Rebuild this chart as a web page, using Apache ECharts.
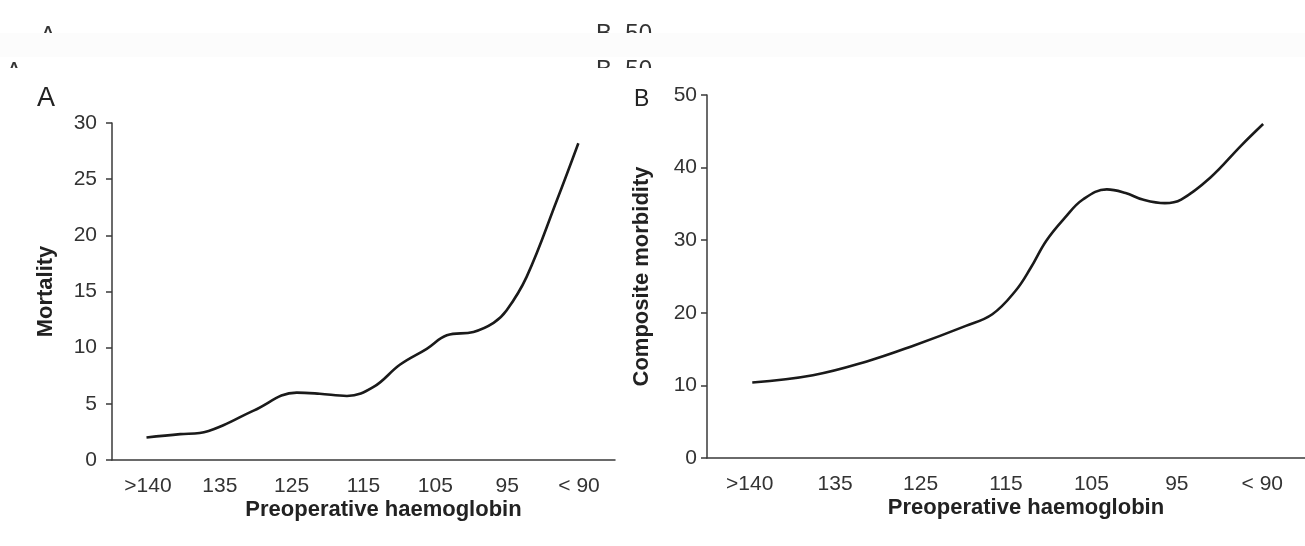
<!DOCTYPE html>
<html>
<head>
<meta charset="utf-8">
<script src="https://cdn.jsdelivr.net/npm/echarts@6/dist/echarts.min.js"></script>
<style>
html,body{margin:0;padding:0;background:#fff;}
#main{width:1305px;height:546px;}
</style>
</head>
<body>
<div id="main"></div>
<script>
// haemoglobin bands shown on both x axes
const categories = ['>140', '135', '125', '115', '105', '95', '< 90'];

// panel A: mortality curve, x is position along the band axis (0..7)
const mortalityX = [0.48, 0.95, 1.22, 1.55, 1.97, 2.57, 2.89, 3.27, 3.64, 4.01, 4.38, 4.66, 5.03, 5.31, 5.49, 5.77, 6.19, 6.49];
const mortalityY = [2.0, 2.3, 2.4, 3.1, 4.4, 6.0, 5.9, 5.7, 6.5, 8.5, 9.9, 11.1, 11.4, 12.2, 13.3, 16.3, 23.1, 28.2];

// panel B: composite morbidity curve
const morbidityX = [0.53, 1.24, 1.87, 2.40, 3.03, 3.34, 3.61, 3.79, 3.97, 4.19, 4.40, 4.68, 4.90, 5.10, 5.36, 5.55, 5.89, 6.25, 6.51];
const morbidityY = [10.4, 11.4, 13.3, 15.4, 18.2, 19.8, 23.0, 26.2, 29.9, 33.1, 35.6, 37.0, 36.5, 35.6, 35.1, 35.6, 38.6, 43.0, 46.0];

const mortalityTicks = [0, 5, 10, 15, 20, 25, 30];
const morbidityTicks = [0, 10, 20, 30, 40, 50];

const font = 'Liberation Sans, Arial, sans-serif';
const axisColor = '#3a3a3a';

function zip(xs, ys) {
    return xs.map((x, i) => [x, ys[i]]);
}

function catAxis(gridIndex) {
    return {
        type: 'category',
        gridIndex: gridIndex,
        data: categories,
        boundaryGap: true,
        axisLine: {lineStyle: {color: axisColor, width: 1.5}},
        axisTick: {length: 5, lineStyle: {color: axisColor, width: 1.5}},
        axisLabel: {fontSize: 21, color: '#333', margin: 16, fontFamily: font},
        splitLine: {show: false},
        name: 'Preoperative haemoglobin',
        nameLocation: 'middle',
        nameGap: 39,
        nameMoveOverlap: false,
        // the title sits a little right of the axis centre
        nameTextStyle: {fontSize: 22, fontWeight: 'bold', color: '#222', fontFamily: font, padding: [0, 0, 0, 40]}
    };
}

function posAxis(gridIndex) {
    return {type: 'value', gridIndex: gridIndex, min: 0, max: 7, show: false, splitLine: {show: false}};
}

function yAxis(gridIndex, ticks, name, gap, margin) {
    return {
        type: 'value',
        gridIndex: gridIndex,
        min: ticks[0],
        max: ticks[ticks.length - 1],
        interval: ticks[1] - ticks[0],
        splitLine: {show: false},
        axisLine: {show: true, lineStyle: {color: axisColor, width: 1.5}},
        axisTick: {show: true, length: 6, lineStyle: {color: axisColor, width: 1.5}},
        axisLabel: {fontSize: 21, color: '#333', margin: margin, fontFamily: font},
        name: name,
        nameLocation: 'middle',
        nameRotate: 90,
        nameGap: gap,
        nameMoveOverlap: false,
        nameTextStyle: {fontSize: 22, fontWeight: 'bold', color: '#222', fontFamily: font}
    };
}

const chart = echarts.init(document.getElementById('main'));

const option = {
    animation: false,
    backgroundColor: '#fff',
    grid: [
        {left: 112, top: 123, width: 503, height: 337},
        {left: 707, top: 95, width: 606, height: 363}
    ],
    xAxis: [catAxis(0), posAxis(0), catAxis(1), posAxis(1)],
    yAxis: [
        yAxis(0, mortalityTicks, 'Mortality', 55, 15),
        yAxis(1, morbidityTicks, 'Composite morbidity', 54, 10)
    ],
    series: [
        {
            type: 'line',
            xAxisIndex: 1,
            yAxisIndex: 0,
            data: zip(mortalityX, mortalityY),
            smooth: 0.4,
            showSymbol: false,
            lineStyle: {color: '#1a1a1a', width: 2.6}
        },
        {
            type: 'line',
            xAxisIndex: 3,
            yAxisIndex: 1,
            data: zip(morbidityX, morbidityY),
            smooth: 0.4,
            showSymbol: false,
            lineStyle: {color: '#1a1a1a', width: 2.6}
        }
    ],
    graphic: [
        // panel letters
        {type: 'text', left: 37, top: 85, style: {text: 'A', fontSize: 27, fill: '#222', fontFamily: font}},
        {type: 'text', left: 634, top: 88, style: {text: 'B', fontSize: 23, fill: '#222', fontFamily: font}},
        // torn scan strip at the top: only glyph tops show
        {type: 'text', left: 40, top: 24, z: 1, style: {text: 'A', fontSize: 24, fill: '#333', fontFamily: font}},
        {type: 'text', left: 596, top: 22, z: 1, style: {text: 'B  50', fontSize: 24, fill: '#333', fontFamily: font}},
        {type: 'text', left: 6, top: 60, z: 1, style: {text: 'A', fontSize: 24, fill: '#333', fontFamily: font}},
        {type: 'text', left: 596, top: 58, z: 1, style: {text: 'B  50', fontSize: 24, fill: '#333', fontFamily: font}},
        {type: 'rect', left: 0, top: 33, z: 2, shape: {width: 1305, height: 24}, style: {fill: '#fcfcfc'}},
        {type: 'rect', left: 0, top: 68, z: 2, shape: {width: 1305, height: 14}, style: {fill: '#fff'}}
    ]
};

chart.setOption(option);
</script>
</body>
</html>
